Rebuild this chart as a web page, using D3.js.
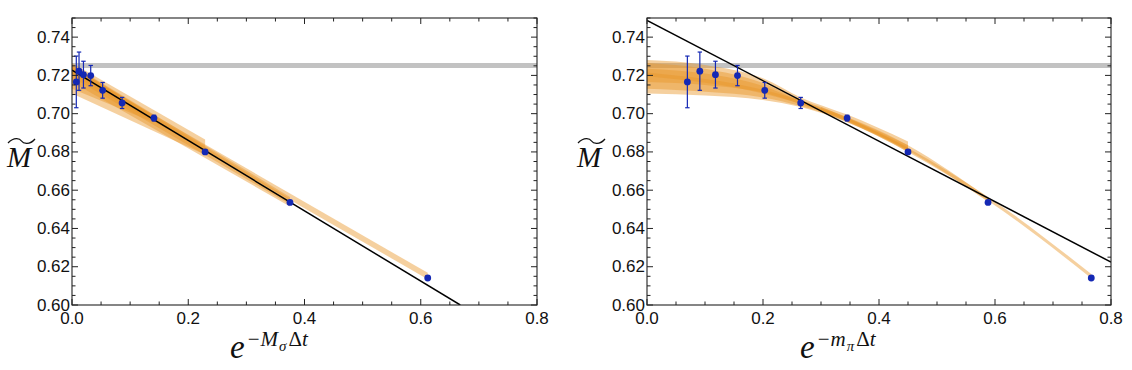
<!DOCTYPE html>
<html><head><meta charset="utf-8">
<script src="https://cdn.jsdelivr.net/npm/d3@7"></script>
<style>body{margin:0;background:#fff}svg{display:block}</style>
</head><body>
<svg id="c" width="1132" height="370"></svg>
<script>
// ---- data ----
const xTicks = [0.0, 0.2, 0.4, 0.6, 0.8];
const xTickLabels = ["0.0", "0.2", "0.4", "0.6", "0.8"];
const yTicks = [0.60, 0.62, 0.64, 0.66, 0.68, 0.70, 0.72, 0.74];
const yTickLabels = ["0.60", "0.62", "0.64", "0.66", "0.68", "0.70", "0.72", "0.74"];

const leftX  = [0.0074, 0.0121, 0.0197, 0.0322, 0.0527, 0.0862, 0.141, 0.229, 0.375, 0.612];
const rightX = [0.0696, 0.0911, 0.118, 0.156, 0.203, 0.265, 0.345, 0.450, 0.588, 0.766];
const Mvals  = [0.7166, 0.7222, 0.7204, 0.7199, 0.7122, 0.7056, 0.6977, 0.6800, 0.6536, 0.6141];
const Merr   = [0.0135, 0.0100, 0.0070, 0.0053, 0.0041, 0.0029, 0.0015, 0.0010, 0.0004, 0.0003];

const refBand = 0.7252;

const leftLineX = [0, 0.668], leftLineY = [0.7227, 0.600];
const rightLineX = [0, 0.8],  rightLineY = [0.7488, 0.6224];

// fit bands: x samples, lower, upper
const leftBands = [
  {x: [0, 0.229], lo: [0.7105, 0.6785], hi: [0.7265, 0.6865]},
  {x: [0, 0.140], lo: [0.7130, 0.6955], hi: [0.7250, 0.6990]},
  {x: [0, 0.375], lo: [0.7165, 0.6515], hi: [0.7255, 0.6565]},
  {x: [0, 0.375], lo: [0.7190, 0.6525], hi: [0.7250, 0.6555]},
  {x: [0, 0.612], lo: [0.7205, 0.6135], hi: [0.7240, 0.6168]}
];
const rightBands = [
  {x: [0, 0.1, 0.2, 0.265, 0.345, 0.45], lo: [0.7105, 0.7095, 0.7072, 0.7035, 0.6955, 0.6800], hi: [0.7280, 0.7255, 0.7185, 0.7085, 0.6995, 0.6855]},
  {x: [0, 0.1, 0.2, 0.265, 0.345, 0.45], lo: [0.7130, 0.7115, 0.7085, 0.7040, 0.6960, 0.6805], hi: [0.7265, 0.7235, 0.7160, 0.7070, 0.6980, 0.6835]},
  {x: [0, 0.1, 0.2, 0.265, 0.345, 0.45], lo: [0.7165, 0.7150, 0.7110, 0.7050, 0.6965, 0.6810], hi: [0.7235, 0.7210, 0.7145, 0.7065, 0.6975, 0.6825]},
  {x: [0.3, 0.45, 0.588], lo: [0.7010, 0.6808, 0.6540], hi: [0.7035, 0.6835, 0.6560]},
  {x: [0, 0.2, 0.3, 0.45, 0.588, 0.766], lo: [0.7195, 0.7105, 0.7015, 0.6800, 0.6545, 0.6140], hi: [0.7215, 0.7125, 0.7035, 0.6820, 0.6565, 0.6162]}
];

// ---- drawing ----
const svg = d3.select("#c");
const Y0 = 305, Y1 = 18;
const blue = "#1428b4";
const orange = "rgb(233,150,42)";

function panel(opts) {
  const {x0, x1, xs, bands, lineX, lineY, id, xlabelX, sup, sub, ylabX} = opts;
  const x = d3.scaleLinear().domain([0, 0.8]).range([x0, x1]);
  const y = d3.scaleLinear().domain([0.6, 0.75]).range([Y0, Y1]);
  const g = svg.append("g");
  g.append("clipPath").attr("id", id).append("rect")
    .attr("x", x0).attr("y", Y1).attr("width", x1 - x0).attr("height", Y0 - Y1);
  const plot = g.append("g").attr("clip-path", `url(#${id})`);

  // reference gray band
  plot.append("line").attr("x1", x0).attr("x2", x1)
    .attr("y1", y(refBand)).attr("y2", y(refBand))
    .attr("stroke", "#c2c2c2").attr("stroke-width", 5);

  // bands
  bands.forEach(b => {
    const pts = b.x.map((v, i) => ({x: v, lo: b.lo[i], hi: b.hi[i]}));
    const area = d3.area().x(d => x(d.x)).y0(d => y(d.lo)).y1(d => y(d.hi))
      .curve(pts.length > 2 ? d3.curveMonotoneX : d3.curveLinear);
    plot.append("path").attr("d", area(pts)).attr("fill", orange).attr("fill-opacity", 0.45);
  });

  // black fit line
  plot.append("line").attr("x1", x(lineX[0])).attr("x2", x(lineX[1]))
    .attr("y1", y(lineY[0])).attr("y2", y(lineY[1]))
    .attr("stroke", "#000").attr("stroke-width", 1.5);

  // error bars
  xs.forEach((xv, i) => {
    const e = Merr[i];
    if (e < 0.0008) return;
    const cx = x(xv);
    plot.append("line").attr("x1", cx).attr("x2", cx)
      .attr("y1", y(Mvals[i] - e)).attr("y2", y(Mvals[i] + e))
      .attr("stroke", blue).attr("stroke-width", 1.2);
    [Mvals[i] - e, Mvals[i] + e].forEach(v => {
      plot.append("line").attr("x1", cx - 2.2).attr("x2", cx + 2.2)
        .attr("y1", y(v)).attr("y2", y(v)).attr("stroke", blue).attr("stroke-width", 1.2);
    });
  });
  plot.selectAll("circle.pt").data(xs).enter().append("circle")
    .attr("cx", d => x(d)).attr("cy", (d, i) => y(Mvals[i])).attr("r", 3.4).attr("fill", blue);

  // frame
  g.append("rect").attr("x", x0).attr("y", Y1).attr("width", x1 - x0).attr("height", Y0 - Y1)
    .attr("fill", "none").attr("stroke", "#222").attr("stroke-width", 1.1);
  // ticks
  const xMinor = d3.range(0, 0.8001, 0.05);
  xMinor.forEach(v => {
    const major = Math.abs(v / 0.2 - Math.round(v / 0.2)) < 1e-6;
    const L = major ? 6 : 3.5;
    g.append("line").attr("x1", x(v)).attr("x2", x(v)).attr("y1", Y0).attr("y2", Y0 - L).attr("stroke", "#222");
    g.append("line").attr("x1", x(v)).attr("x2", x(v)).attr("y1", Y1).attr("y2", Y1 + L).attr("stroke", "#222");
  });
  const yMinor = d3.range(0.6, 0.7501, 0.005);
  yMinor.forEach(v => {
    const major = Math.abs(v / 0.02 - Math.round(v / 0.02)) < 1e-6;
    const L = major ? 6 : 3.5;
    g.append("line").attr("x1", x0).attr("x2", x0 + L).attr("y1", y(v)).attr("y2", y(v)).attr("stroke", "#222");
    g.append("line").attr("x1", x1).attr("x2", x1 - L).attr("y1", y(v)).attr("y2", y(v)).attr("stroke", "#222");
  });
  // tick labels
  const font = "'Liberation Sans', Arial, sans-serif";
  xTicks.forEach((v, i) => {
    g.append("text").attr("x", x(v)).attr("y", 324).attr("text-anchor", "middle")
      .attr("font-family", font).attr("font-size", 17).attr("fill", "#111").text(xTickLabels[i]);
  });
  yTicks.forEach((v, i) => {
    g.append("text").attr("x", x0 - 2).attr("y", y(v) + 5.5).attr("text-anchor", "end")
      .attr("font-family", font).attr("font-size", 17).attr("fill", "#111").text(yTickLabels[i]);
  });
  // x label
  const serif = "'Liberation Serif', 'Times New Roman', serif";
  const xl = g.append("text").attr("x", xlabelX).attr("y", 358)
    .attr("font-family", serif).attr("font-style", "italic").attr("font-size", 33).attr("fill", "#111");
  xl.append("tspan").text("e");
  xl.append("tspan").attr("dx", 3).attr("dy", -12).attr("font-size", 21).attr("font-style", "normal").text("\u2212");
  xl.append("tspan").attr("dx", 1).attr("font-size", 21).text(sup);
  xl.append("tspan").attr("dx", 1).attr("dy", 5).attr("font-size", 15).text(sub);
  xl.append("tspan").attr("dx", 2).attr("dy", -5).attr("font-size", 21).attr("font-style", "normal").text("\u0394");
  xl.append("tspan").attr("font-size", 21).text("t");
  // y label
  g.append("text").attr("x", ylabX).attr("y", 167).attr("font-family", serif)
    .attr("font-style", "italic").attr("font-size", 29).attr("fill", "#111").text("M");
  const tx = ylabX + 1, tw = 27, ty = 140;
  g.append("path").attr("d", `M${tx},${ty + 3} C${tx + tw * 0.25},${ty - 4} ${tx + tw * 0.45},${ty - 1} ${tx + tw * 0.5},${ty + 1} S${tx + tw * 0.78},${ty + 6} ${tx + tw},${ty - 1}`)
    .attr("fill", "none").attr("stroke", "#111").attr("stroke-width", 1.3);
}

panel({x0: 72, x1: 537, xs: leftX, bands: leftBands, lineX: leftLineX, lineY: leftLineY,
  id: "cl", xlabelX: 230, sup: "M", sub: "\u03c3", ylabX: 7});
panel({x0: 647, x1: 1111, xs: rightX, bands: rightBands, lineX: rightLineX, lineY: rightLineY,
  id: "cr", xlabelX: 800, sup: "m", sub: "\u03c0", ylabX: 577});
</script>
</body></html>
